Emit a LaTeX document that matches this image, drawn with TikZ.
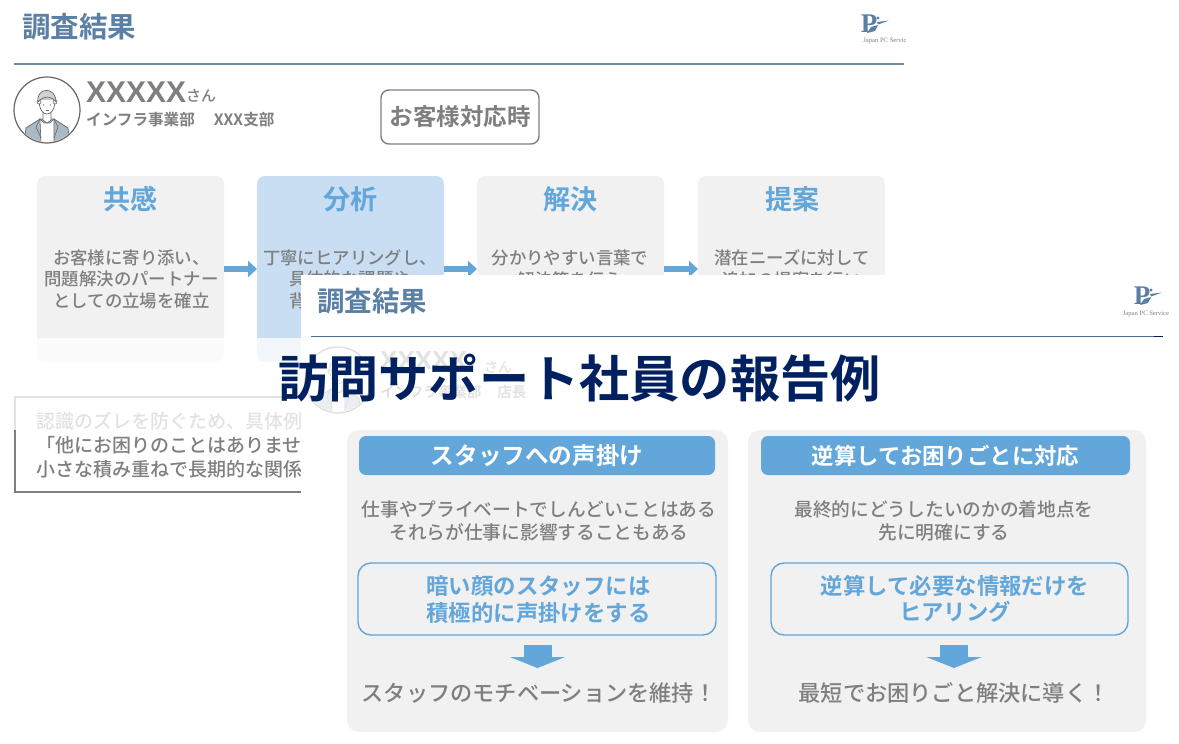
\documentclass[tikz,border=0pt]{standalone}
\usepackage{fontspec}
\setmainfont{Noto Sans CJK JP Medium}[BoldFont={Noto Sans CJK JP Bold}]
\newfontfamily\latinfont{Liberation Sans}
\newfontfamily\logofont{Liberation Serif}
\usetikzlibrary{arrows.meta}
\definecolor{headblue}{HTML}{5B80A5}
\definecolor{linesteel}{HTML}{6C8BA5}
\definecolor{skyblue}{HTML}{62A6DA}
\definecolor{paleblue}{HTML}{C9DEF3}
\definecolor{cardgray}{HTML}{F1F1F1}
\definecolor{textgray}{HTML}{7F7F7F}
\definecolor{navy}{HTML}{002060}
\definecolor{jacketgray}{HTML}{A9B9C6}
\definecolor{inkgray}{HTML}{666666}
\newcommand{\fs}[2]{\fontsize{#1}{#2}\selectfont}
\tikzset{
    person/.pic={
        \fill[white] (0,0) circle (32);
        \begin{scope}
            \clip (0,0) circle (32);
            \fill[jacketgray, draw=inkgray, line width=0.7pt] (-23,34) -- (-21,18) -- (-7,9) -- (7,9) -- (21,18) -- (23,34) -- cycle;
            \fill[white, draw=inkgray, line width=0.6pt] (-7,9) -- (-6,34) -- (7,34) -- (7,9) -- (3,13) -- (-3,13) -- cycle;
            \draw[inkgray, line width=0.6pt] (-7,9) -- (-11,17) -- (-6,28);
            \draw[inkgray, line width=0.6pt] (7,9) -- (11,17) -- (7,28);
            \fill[white, draw=inkgray, line width=0.6pt] (-4,2) -- (-4,10) -- (0,13) -- (4,10) -- (4,2) -- cycle;
        \end{scope}
        \fill[white, draw=inkgray, line width=0.7pt] (-8,-11) .. controls (-8,0) and (-4,4) .. (0,4) .. controls (4,4) and (8,0) .. (8,-11) -- cycle;
        \fill[white, draw=inkgray, line width=0.6pt] (-8,-8) circle (2) (8,-8) circle (2);
        \fill[gray!35, draw=inkgray, line width=0.7pt] (-9,-8) .. controls (-11,-23) and (9,-24) .. (9,-8) .. controls (6,-14) and (-3,-15) .. (-9,-8) -- cycle;
        \fill[inkgray] (-3.5,-5) circle (0.7) (3.5,-5) circle (0.7);
        \draw[inkgray, line width=0.5pt] (-1.5,0) -- (1.5,0);
        \draw[inkgray, line width=1.2pt] (0,0) circle (33);
    },
    logomark/.pic={
        \node[text=headblue, font=\logofont\bfseries\fs{27}{27}, inner sep=0] (logoletter) at (-4,0) {P};
        \fill[headblue] (5,-6) circle (1.6);
        \fill[headblue] (4,-2) -- (16,-3.5) -- (5,0.5) -- cycle;
        \fill[headblue] (-2,3) -- (5,1) -- (2,7) -- (-6,9) -- cycle;
    }
}
\begin{document}
\begin{tikzpicture}[x=1pt, y=-1pt,
    headtext/.style={text=headblue, font=\bfseries\fs{27.5}{28}, inner sep=0, anchor=west},
    cardbox/.style={fill=cardgray, rounded corners=8pt, minimum width=187pt, minimum height=186pt, inner sep=0, outer sep=0},
    cardtitle/.style={text=skyblue, font=\bfseries\fs{27}{27}, inner sep=0},
    cardbody/.style={text=textgray, font=\fs{17.4}{21.5}, align=center, inner sep=0},
    slimarrow/.style={-{Triangle[length=9pt, width=16pt]}, skyblue, line width=6.5pt},
    fatarrow/.style={-{Triangle[length=11pt, width=55pt]}, skyblue, line width=28pt},
    panelbox/.style={fill=cardgray, rounded corners=12pt, inner sep=0, outer sep=0},
    bannerbox/.style={fill=skyblue, rounded corners=7pt, minimum height=39pt, inner sep=0, text=white, font=\bfseries\fs{23.6}{24}},
    outlinebox/.style={draw=skyblue, line width=1.4pt, rounded corners=13pt, minimum height=72pt, inner sep=0},
    plaintext/.style={text=textgray, inner sep=0},
    logotext/.style={text=gray, font=\logofont\fs{6.6}{7}, inner sep=0}]
    \useasboundingbox (0,0) rectangle (1179,744);
    \fill[white] (0,0) rectangle (1179,744);

    \node[headtext, font=\bfseries\fs{28.5}{29}] (titleA) at (22,27) {調査結果};
    \draw[linesteel, line width=1.4pt] (14,64) -- (904,64);
    \pic at (873,24) {logomark};
    \node[logotext] (logotextA) at (885,41) {Japan PC Servic};
    \pic at (47,110) {person};
    \node[plaintext, anchor=west, font=\latinfont\bfseries\fs{30}{30}] (nameA) at (86,92) {XXXXX};
    \node[plaintext, anchor=west, font=\fs{15}{15}] (sanA) at (186,96) {さん};
    \node[plaintext, anchor=west, font=\bfseries\fs{15.6}{16}] (deptA) at (86,120) {インフラ事業部\hspace{19pt}XXX支部};
    \node[draw=textgray, line width=1.4pt, rounded corners=8pt, minimum width=158pt, minimum height=54pt, inner sep=0, text=textgray, font=\bfseries\fs{23.5}{24}] (sceneA) at (460,117) {お客様対応時};

    \node[cardbox] (empathy) at (130.5,269) {};
    \node[cardbox, fill=paleblue] (analysis) at (350.5,269) {};
    \node[cardbox] (solution) at (570.5,269) {};
    \node[cardbox] (proposal) at (791.5,269) {};
    \draw[slimarrow] (empathy) -- (analysis);
    \draw[slimarrow] (analysis) -- (solution);
    \draw[slimarrow] (solution) -- (proposal);
    \node[cardtitle] (empathytitle) at (130,199) {共感};
    \node[cardtitle] (analysistitle) at (350,199) {分析};
    \node[cardtitle] (solutiontitle) at (570,199) {解決};
    \node[cardtitle] (proposaltitle) at (792,199) {提案};
    \node[cardbody] (empathybody) at (131.5,279) {お客様に寄り添い、\\問題解決のパートナー\\としての立場を確立};
    \node[cardbody] (analysisbody) at (350,279) {丁寧にヒアリングし、\\具体的な課題や\\背\hphantom{景を把握する}};
    \node[cardbody] (solutionbody) at (570,269) {分かりやすい言葉で\\解決策を伝え};
    \node[cardbody] (proposalbody) at (792,269) {潜在ニーズに対して\\追加の提案を行い};

    \draw[textgray, line width=1.4pt, fill=white] (15,397) rectangle (320,492);
    \node[plaintext, anchor=west, font=\fs{19}{24}, align=left] (noteA) at (36,445) {認識のズレを防ぐため、具体例\\「他にお困りのことはありませ\\小さな積み重ねで長期的な関係};

    \fill[white] (301,275) rectangle (1179,744);

    \node[headtext] (titleB) at (317,301) {調査結果};
    \draw[linesteel!70!navy, line width=1.1pt] (311,336.5) -- (1163,336.5);
    \draw[navy, line width=1.1pt] (1154,336.5) -- (1163,336.5);
    \pic at (1146,296) {logomark};
    \node[logotext] (logotextB) at (1146,314) {Japan PC Service};
    \pic at (338,380) {person};
    \node[plaintext, anchor=west, font=\latinfont\bfseries\fs{26}{26}] (nameB) at (380,361) {XXXXX};
    \node[plaintext, anchor=west, font=\fs{14}{14}] (sanB) at (484,367) {さん};
    \node[plaintext, anchor=west, font=\bfseries\fs{14.5}{15}] (deptB) at (380,392) {インフラ事業部\hspace{16pt}店長};

    \node[panelbox, minimum width=381pt, minimum height=302pt] (panelL) at (537.5,581) {};
    \node[panelbox, minimum width=398pt, minimum height=302pt] (panelR) at (947,581) {};
    \node[bannerbox, minimum width=356pt] (bannerL) at (537,455.5) {スタッフへの声掛け};
    \node[bannerbox, minimum width=369pt, font=\bfseries\fs{22.4}{23}] (bannerR) at (945.5,455.5) {逆算してお困りごとに対応};
    \node[plaintext, font=\fs{18.7}{23}, align=center] (causeL) at (539,520.5) {仕事やプライベートでしんどいことはある\\それらが仕事に影響することもある};
    \node[plaintext, font=\fs{18.7}{23}, align=center] (causeR) at (944,520.5) {最終的にどうしたいのかの着地点を\\先に明確にする};
    \node[outlinebox, minimum width=358pt] (actionL) at (537,599) {};
    \node[text=skyblue, align=center, inner sep=0, font=\bfseries\fs{22.4}{27}] (actiontextL) at (538.5,600) {暗い顔のスタッフには\\積極的に声掛けをする};
    \node[outlinebox, minimum width=357pt] (actionR) at (949.5,599) {};
    \node[text=skyblue, align=center, inner sep=0, font=\bfseries\fs{22.4}{26}] (actiontextR) at (955,598.5) {逆算して必要な情報だけを\\ヒアリング};
    \node[plaintext, font=\fs{22.2}{22}] (resultL) at (539,693) {スタッフのモチベーションを維持！};
    \node[plaintext, font=\fs{22.2}{22}] (resultR) at (954,693) {最短でお困りごと解決に導く！};
    \coordinate (downstartL) at (537.5,645);
    \coordinate (downendL) at (537.5,668);
    \coordinate (downstartR) at (954,645);
    \coordinate (downendR) at (954,668);
    \draw[fatarrow] (downstartL) -- (downendL);
    \draw[fatarrow] (downstartR) -- (downendR);

    \fill[white, opacity=0.78] (0,337.5) rectangle (1179,430);

    \node[text=navy, inner sep=0, font=\bfseries\fs{50.2}{51}] (headline) at (579.5,378) {訪問サポート社員の報告例};
\end{tikzpicture}
\end{document}
